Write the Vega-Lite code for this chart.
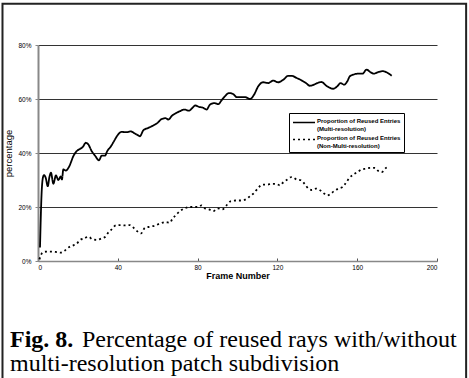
{
  "$schema": "https://vega.github.io/schema/vega-lite/v6.json",
  "width": 399,
  "height": 216,
  "autosize": {"type": "none"},
  "padding": {"left": 38, "top": 45, "right": 32, "bottom": 117},
  "background": "white",
  "config": {"view": {"stroke": null}, "font": "Liberation Sans"},
  "title": {
    "text": "Fig. 8.",
    "subtitle": ["\u200b\u00a0\u00a0\u00a0\u00a0\u00a0\u00a0\u00a0\u00a0\u00a0\u00a0\u00a0\u00a0Percentage of reused rays with/without", "multi-resolution patch subdivision"],
    "orient": "bottom",
    "anchor": "start",
    "frame": "group",
    "dx": -28,
    "offset": -54,
    "font": "Liberation Serif",
    "fontSize": 24,
    "fontWeight": "bold",
    "color": "black",
    "subtitleFont": "Liberation Serif",
    "subtitleFontSize": 24,
    "subtitleFontWeight": "normal",
    "subtitleColor": "black",
    "subtitleLineHeight": 24,
    "subtitlePadding": -24
  },
  "data": {"values": [
    {"s":"multi","f":1,"v":0.05},{"s":"multi","f":1.8,"v":0.25},{"s":"multi","f":2.5,"v":0.31},{"s":"multi","f":3,"v":0.318},{"s":"multi","f":3.8,"v":0.31},{"s":"multi","f":4.9,"v":0.277},{"s":"multi","f":5.7,"v":0.31},{"s":"multi","f":6.5,"v":0.327},{"s":"multi","f":7.7,"v":0.286},{"s":"multi","f":9,"v":0.317},{"s":"multi","f":10.2,"v":0.3},{"s":"multi","f":11.4,"v":0.313},{"s":"multi","f":12,"v":0.302},{"s":"multi","f":12.7,"v":0.339},{"s":"multi","f":13.9,"v":0.335},{"s":"multi","f":15.7,"v":0.351},{"s":"multi","f":17.7,"v":0.388},{"s":"multi","f":19.4,"v":0.407},{"s":"multi","f":21,"v":0.415},{"s":"multi","f":22.4,"v":0.422},{"s":"multi","f":24,"v":0.438},{"s":"multi","f":25.2,"v":0.432},{"s":"multi","f":26.9,"v":0.407},{"s":"multi","f":28.6,"v":0.39},{"s":"multi","f":30.6,"v":0.373},{"s":"multi","f":31.9,"v":0.39},{"s":"multi","f":33.6,"v":0.39},{"s":"multi","f":34.7,"v":0.407},{"s":"multi","f":36.4,"v":0.423},{"s":"multi","f":38.1,"v":0.444},{"s":"multi","f":39.8,"v":0.465},{"s":"multi","f":41.9,"v":0.478},{"s":"multi","f":44.4,"v":0.477},{"s":"multi","f":46.4,"v":0.48},{"s":"multi","f":48.6,"v":0.472},{"s":"multi","f":50.3,"v":0.465},{"s":"multi","f":51.1,"v":0.462},{"s":"multi","f":52.8,"v":0.484},{"s":"multi","f":55.3,"v":0.493},{"s":"multi","f":57.8,"v":0.502},{"s":"multi","f":60,"v":0.512},{"s":"multi","f":62,"v":0.526},{"s":"multi","f":63.9,"v":0.529},{"s":"multi","f":65.3,"v":0.524},{"s":"multi","f":67.3,"v":0.539},{"s":"multi","f":69.5,"v":0.549},{"s":"multi","f":71.2,"v":0.555},{"s":"multi","f":73.3,"v":0.561},{"s":"multi","f":75.7,"v":0.557},{"s":"multi","f":77.4,"v":0.567},{"s":"multi","f":78.7,"v":0.576},{"s":"multi","f":80.7,"v":0.571},{"s":"multi","f":82.9,"v":0.567},{"s":"multi","f":84.5,"v":0.561},{"s":"multi","f":86.2,"v":0.579},{"s":"multi","f":88.4,"v":0.585},{"s":"multi","f":90.4,"v":0.581},{"s":"multi","f":92,"v":0.595},{"s":"multi","f":93.7,"v":0.61},{"s":"multi","f":95.7,"v":0.622},{"s":"multi","f":97.9,"v":0.618},{"s":"multi","f":99.6,"v":0.607},{"s":"multi","f":101.7,"v":0.607},{"s":"multi","f":103.8,"v":0.607},{"s":"multi","f":106.3,"v":0.6},{"s":"multi","f":108.3,"v":0.616},{"s":"multi","f":110.4,"v":0.647},{"s":"multi","f":112.9,"v":0.662},{"s":"multi","f":115.4,"v":0.659},{"s":"multi","f":117.9,"v":0.668},{"s":"multi","f":120.4,"v":0.662},{"s":"multi","f":122.9,"v":0.671},{"s":"multi","f":125.5,"v":0.686},{"s":"multi","f":127.1,"v":0.686},{"s":"multi","f":129.6,"v":0.678},{"s":"multi","f":132.1,"v":0.669},{"s":"multi","f":134.3,"v":0.659},{"s":"multi","f":136.3,"v":0.649},{"s":"multi","f":138.3,"v":0.653},{"s":"multi","f":140,"v":0.659},{"s":"multi","f":142.2,"v":0.663},{"s":"multi","f":144.2,"v":0.651},{"s":"multi","f":146.4,"v":0.641},{"s":"multi","f":148,"v":0.638},{"s":"multi","f":150,"v":0.647},{"s":"multi","f":151.7,"v":0.659},{"s":"multi","f":153.4,"v":0.653},{"s":"multi","f":155,"v":0.665},{"s":"multi","f":156.3,"v":0.684},{"s":"multi","f":158,"v":0.69},{"s":"multi","f":160.5,"v":0.694},{"s":"multi","f":162.7,"v":0.694},{"s":"multi","f":164.7,"v":0.709},{"s":"multi","f":166.7,"v":0.699},{"s":"multi","f":168.4,"v":0.694},{"s":"multi","f":170.6,"v":0.7},{"s":"multi","f":172.7,"v":0.703},{"s":"multi","f":174.7,"v":0.699},{"s":"multi","f":177.3,"v":0.686},
    {"s":"non","f":0.7,"v":0.006},{"s":"non","f":2.3,"v":0.031},{"s":"non","f":4.4,"v":0.035},{"s":"non","f":6.9,"v":0.035},{"s":"non","f":9.4,"v":0.033},{"s":"non","f":11.4,"v":0.031},{"s":"non","f":13.5,"v":0.039},{"s":"non","f":15.7,"v":0.052},{"s":"non","f":17.7,"v":0.058},{"s":"non","f":19.4,"v":0.064},{"s":"non","f":21,"v":0.078},{"s":"non","f":23,"v":0.083},{"s":"non","f":25.2,"v":0.09},{"s":"non","f":27.4,"v":0.08},{"s":"non","f":29.4,"v":0.078},{"s":"non","f":31.6,"v":0.083},{"s":"non","f":33.6,"v":0.089},{"s":"non","f":35.2,"v":0.105},{"s":"non","f":36.9,"v":0.117},{"s":"non","f":39.1,"v":0.132},{"s":"non","f":41.4,"v":0.133},{"s":"non","f":43.6,"v":0.132},{"s":"non","f":46.1,"v":0.133},{"s":"non","f":48.3,"v":0.12},{"s":"non","f":50.3,"v":0.107},{"s":"non","f":51.6,"v":0.102},{"s":"non","f":53.6,"v":0.123},{"s":"non","f":56.1,"v":0.127},{"s":"non","f":58.6,"v":0.131},{"s":"non","f":61.2,"v":0.139},{"s":"non","f":63.7,"v":0.144},{"s":"non","f":66.2,"v":0.142},{"s":"non","f":67.3,"v":0.156},{"s":"non","f":69,"v":0.169},{"s":"non","f":71.2,"v":0.185},{"s":"non","f":73.3,"v":0.194},{"s":"non","f":75.7,"v":0.2},{"s":"non","f":78.4,"v":0.2},{"s":"non","f":80.4,"v":0.201},{"s":"non","f":82,"v":0.206},{"s":"non","f":83.7,"v":0.195},{"s":"non","f":85.7,"v":0.191},{"s":"non","f":87.9,"v":0.185},{"s":"non","f":90,"v":0.195},{"s":"non","f":92.4,"v":0.191},{"s":"non","f":94.6,"v":0.207},{"s":"non","f":96.7,"v":0.222},{"s":"non","f":99.1,"v":0.224},{"s":"non","f":101.7,"v":0.224},{"s":"non","f":103.8,"v":0.227},{"s":"non","f":106.3,"v":0.24},{"s":"non","f":108.3,"v":0.252},{"s":"non","f":110.4,"v":0.271},{"s":"non","f":112.6,"v":0.283},{"s":"non","f":114.9,"v":0.283},{"s":"non","f":117.1,"v":0.286},{"s":"non","f":119.2,"v":0.286},{"s":"non","f":121.3,"v":0.28},{"s":"non","f":123,"v":0.292},{"s":"non","f":125,"v":0.302},{"s":"non","f":127.1,"v":0.311},{"s":"non","f":129.6,"v":0.302},{"s":"non","f":131.8,"v":0.299},{"s":"non","f":133.8,"v":0.284},{"s":"non","f":135.5,"v":0.268},{"s":"non","f":137.2,"v":0.263},{"s":"non","f":139.3,"v":0.268},{"s":"non","f":141.4,"v":0.262},{"s":"non","f":143.4,"v":0.25},{"s":"non","f":145,"v":0.243},{"s":"non","f":146.7,"v":0.249},{"s":"non","f":148.4,"v":0.259},{"s":"non","f":150.5,"v":0.268},{"s":"non","f":152.7,"v":0.274},{"s":"non","f":154.4,"v":0.29},{"s":"non","f":156,"v":0.307},{"s":"non","f":158,"v":0.32},{"s":"non","f":160,"v":0.329},{"s":"non","f":162.2,"v":0.339},{"s":"non","f":164.4,"v":0.342},{"s":"non","f":166.7,"v":0.345},{"s":"non","f":168.9,"v":0.345},{"s":"non","f":170.6,"v":0.333},{"s":"non","f":172.3,"v":0.329},{"s":"non","f":174.5,"v":0.345},{"s":"non","f":176.1,"v":0.349}
  ]},
  "layer": [
    {
      "mark": {"type": "line", "color": "black", "strokeWidth": 1.8, "interpolate": "monotone"},
      "encoding": {
        "x": {
          "field": "f", "type": "quantitative",
          "scale": {"domain": [0, 200], "nice": false},
          "axis": {
            "values": [0, 20, 40, 60, 80, 100, 120, 140, 160, 180, 200],
            "labelOverlap": false,
            "title": "Frame Number",
            "titleFont": "Liberation Sans", "titleFontSize": 9, "titleFontWeight": "bold", "titleColor": "black", "titlePadding": 1,
            "labelFont": "Liberation Sans", "labelFontSize": 6.5, "labelColor": "black", "labelPadding": 6,
            "tickSize": -3, "tickColor": "#555", "tickWidth": 1,
            "domainColor": "#888", "domainWidth": 1.5, "grid": false
          }
        },
        "y": {
          "field": "v", "type": "quantitative",
          "scale": {"domain": [0, 0.8], "nice": false},
          "axis": {
            "values": [0, 0.1, 0.2, 0.3, 0.4, 0.5, 0.6, 0.7, 0.8],
            "labelOverlap": false,
            "format": ".0%",
            "title": "percentage",
            "titleFont": "Liberation Sans", "titleFontSize": 9.5, "titleFontWeight": "normal", "titleColor": "black", "titlePadding": 4,
            "labelFont": "Liberation Sans", "labelFontSize": 6.5, "labelColor": "black", "labelPadding": 4,
            "tickSize": 3, "tickColor": "#888",
            "domainColor": "#888", "domainWidth": 2,
            "grid": true,
            "gridColor": {"condition": {"test": "datum.value === 0", "value": "#888"}, "value": "#333"},
            "gridWidth": 1
          }
        },
        "detail": {"field": "s"},
        "strokeDash": {
          "field": "s", "type": "nominal",
          "scale": {"domain": ["multi", "non"], "range": [[1, 0], [2, 3]]},
          "legend": {
            "orient": "none", "legendX": 251, "legendY": 68,
            "title": null,
            "padding": 3,
            "strokeColor": "black", "fillColor": "white",
            "labelFont": "Liberation Sans", "labelFontSize": 6, "labelFontWeight": "bold", "labelColor": "black",
            "labelBaseline": "alphabetic",
            "labelLimit": 0, "labelOffset": 6.5,
            "labelExpr": "datum.label == 'multi' ? ['Proportion of Reused Entries', '(Multi-resolution)'] : ['Proportion of Reused Entries', '(Non-Multi-resolution)']",
            "symbolType": "M-2,0H2", "symbolSize": 121, "symbolStrokeWidth": 1.5, "symbolStrokeColor": "black", "symbolOffset": 5.5,
            "rowPadding": 1
          }
        }
      }
    },
    {
      "data": {"values": [{}]},
      "mark": {"type": "rect", "fill": null, "stroke": "#222", "strokeWidth": 2, "clip": false},
      "encoding": {
        "x": {"datum": -17.8, "type": "quantitative"},
        "x2": {"datum": 214.6},
        "y": {"datum": 0.953, "type": "quantitative"},
        "y2": {"datum": -0.443}
      }
    }
  ]
}
